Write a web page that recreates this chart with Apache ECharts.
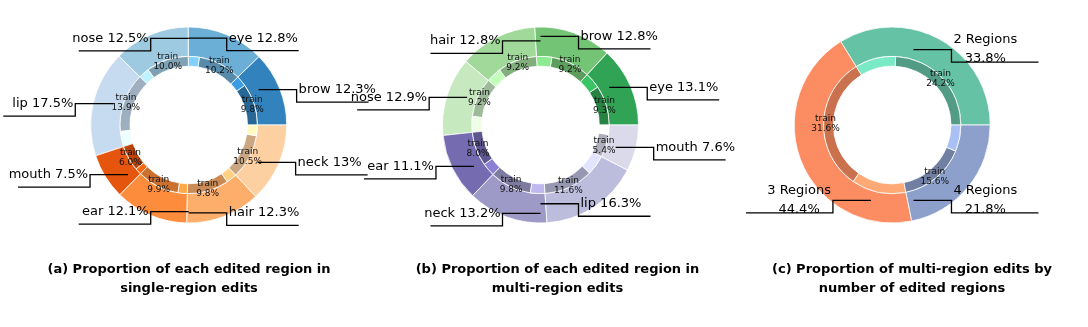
<!DOCTYPE html>
<html>
<head>
<meta charset="utf-8">
<script src="https://cdn.jsdelivr.net/npm/echarts@6/dist/echarts.min.js"></script>
<style>
html,body{margin:0;padding:0;background:#fff;}
#c{width:1088px;height:327px;}
</style>
</head>
<body>
<div id="c"></div>
<script>
// ---- data ----
const catsA  = ['brow', 'eye', 'nose', 'lip', 'mouth', 'ear', 'hair', 'neck'];
const pctA   = [12.3, 12.8, 12.5, 17.5, 7.5, 12.1, 12.3, 13];
const trainA = [9.8, 10.2, 10.0, 13.9, 6.0, 9.9, 9.8, 10.5];
const testA  = [2.5, 2.6, 2.5, 3.6, 1.5, 2.2, 2.5, 2.5];

const catsB  = ['eye', 'brow', 'hair', 'nose', 'ear', 'neck', 'lip', 'mouth'];
const pctB   = [13.1, 12.8, 12.8, 12.9, 11.1, 13.2, 16.3, 7.6];
const trainB = [9.3, 9.2, 9.2, 9.2, 8.0, 9.8, 11.6, 5.4];
const testB  = [3.8, 3.6, 3.6, 3.7, 3.1, 3.4, 4.7, 2.2];

const catsC  = ['2 Regions', '3 Regions', '4 Regions'];
const pctC   = [33.8, 44.4, 21.8];
const trainC = [24.2, 31.6, 15.6];
const testC  = [9.6, 12.8, 6.2];

const captions = [
  '(a) Proportion of each edited region in\nsingle-region edits',
  '(b) Proportion of each edited region in\nmulti-region edits',
  '(c) Proportion of multi-region edits by\nnumber of edited regions'
];

// ---- styling ----
const colorsA = ['#3182bd', '#6baed6', '#9ecae1', '#c6dbef', '#e6550d', '#fd8d3c', '#fdae6b', '#fdd0a2'];
const colorsB = ['#31a354', '#74c476', '#a1d99b', '#c7e9c0', '#756bb1', '#9e9ac8', '#bcbddc', '#dadaeb'];
const colorsC = ['#66c2a5', '#fc8d62', '#8da0cb'];

const R = 98;
const FONT = 'DejaVu Sans';

function scaleColor(hex, f) {
  const n = parseInt(hex.slice(1), 16);
  const c = [(n >> 16) & 255, (n >> 8) & 255, n & 255].map(v => Math.max(0, Math.min(255, Math.round(v * f))));
  return 'rgb(' + c.join(',') + ')';
}

function makeLayout(cx, cy, vals, cfg) {
  const total = vals.reduce((a, b) => a + b, 0);
  const mids = [];
  let acc = 0;
  vals.forEach(v => { mids.push((acc + v / 2) / total * 360); acc += v; });
  return function (p) {
    const a = mids[p.dataIndex] * Math.PI / 180;
    const s = Math.cos(a) >= 0 ? 1 : -1;
    const dy = cfg.mode === 'fixed'
      ? (Math.sin(a) >= 0 ? 1 : -1) * cfg.fixedR * R
      : cfg.k * R * Math.sin(a);
    const ra = cfg.ra * R;
    const ax = s * Math.sqrt(Math.max(0, ra * ra - dy * dy));
    const x0 = cx + ax, y0 = cy - dy;
    const xc = x0 + s * cfg.seg1;
    const y1 = y0 + cfg.drop;
    const xe = xc + s * cfg.len;
    const w = p.labelRect.width;
    return {
      x: xc + s * (w / 2 + 2),
      y: y0,
      align: 'center',
      verticalAlign: 'middle',
      labelLinePoints: [[x0, y0], [xc, y0], [xc, y1], [xe, y1]]
    };
  };
}

function buildSeries(cx, cy, cats, pct, train, test, colors, cfg) {
  const outer = {
    type: 'pie',
    center: [cx, cy],
    radius: [0.7 * R, R],
    startAngle: 0,
    clockwise: false,
    animation: false,
    silent: true,
    z: 2,
    itemStyle: { borderColor: '#fff', borderWidth: 0.8 },
    data: cats.map((c, i) => ({ name: c, value: pct[i], itemStyle: { color: colors[i] } })),
    label: { show: false },
    labelLine: { show: false }
  };
  // transparent overlay carrying the outer labels so the leader lines sit above the wedges
  const labels = {
    type: 'pie',
    center: [cx, cy],
    radius: [0.7 * R, R],
    startAngle: 0,
    clockwise: false,
    avoidLabelOverlap: false,
    animation: false,
    silent: true,
    z: 5,
    itemStyle: { color: 'rgba(0,0,0,0)', borderWidth: 0 },
    data: cats.map((c, i) => ({ name: c, value: pct[i] })),
    label: {
      show: true,
      position: 'outside',
      formatter: p => p.name + cfg.sep + String(pct[p.dataIndex]) + '%',
      fontFamily: FONT,
      fontSize: 13,
      lineHeight: 19,
      color: '#000',
      align: 'center'
    },
    labelLine: { show: true, length: 5, length2: 5, smooth: false, lineStyle: { color: '#000', width: 1.3 } },
    labelLayout: makeLayout(cx, cy, pct, cfg)
  };
  const innerData = [];
  cats.forEach((c, i) => {
    innerData.push({ name: c + ' train', value: train[i], itemStyle: { color: scaleColor(colors[i], 0.8) },
      label: { show: true, formatter: 'train\n' + train[i].toFixed(1) + '%' } });
    innerData.push({ name: c + ' test', value: test[i], itemStyle: { color: scaleColor(colors[i], 1.2) },
      label: { show: false } });
  });
  const inner = {
    type: 'pie',
    center: [cx, cy],
    radius: [0.6 * R, 0.7 * R],
    startAngle: 0,
    clockwise: false,
    avoidLabelOverlap: false,
    animation: false,
    silent: true,
    z: 3,
    itemStyle: { borderColor: '#fff', borderWidth: 0.8 },
    data: innerData,
    label: { position: 'inside', fontFamily: FONT, fontSize: 9, lineHeight: 10, color: '#111' },
    labelLine: { show: false }
  };
  return [outer, inner, labels];
}

const cfgAB = { mode: 'sine', k: 0.96, ra: 0.8, seg1: 38, drop: 12.5, len: 72, sep: ' ' };
const cfgC  = { mode: 'fixed', fixedR: 0.77, ra: 0.8, seg1: 38, drop: 12.5, len: 87, sep: '\n' };

const series = []
  .concat(buildSeries(188.7, 125, catsA, pctA, trainA, testA, colorsA, cfgAB))
  .concat(buildSeries(540.5, 125, catsB, pctB, trainB, testB, colorsB, cfgAB))
  .concat(buildSeries(892.2, 125, catsC, pctC, trainC, testC, colorsC, cfgC));

const capX = [189, 557.5, 912];
const title = captions.map((t, i) => ({
  text: t,
  left: capX[i],
  top: 260,
  textAlign: 'center',
  padding: 0,
  textStyle: { fontFamily: FONT, fontSize: 13, fontWeight: 'bold', lineHeight: 19, color: '#000' }
}));

const chart = echarts.init(document.getElementById('c'), null, { renderer: 'canvas' });
chart.setOption({ backgroundColor: '#fff', animation: false, title: title, series: series });
</script>
</body>
</html>
